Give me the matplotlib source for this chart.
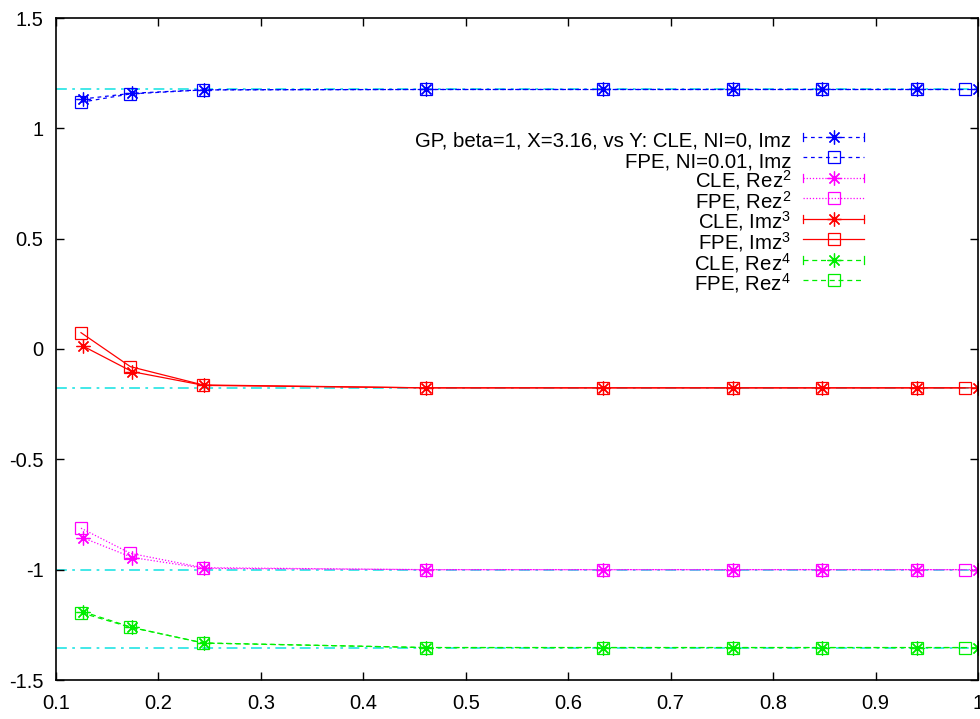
import matplotlib
matplotlib.use('Agg')
import matplotlib.pyplot as plt
from matplotlib.ticker import FuncFormatter, MultipleLocator
from matplotlib.legend_handler import HandlerLine2D
from matplotlib.lines import Line2D

plt.rcParams['font.family'] = ['Liberation Sans', 'DejaVu Sans']
plt.rcParams['mathtext.default'] = 'regular'
plt.rcParams['axes.unicode_minus'] = False

# Y values (x axis), slightly different for CLE and FPE runs
y_fpe = [0.1244, 0.1726, 0.2436, 0.4614, 0.634, 0.761, 0.8477, 0.9408, 0.9874]
y_cle = [0.1260, 0.1745, 0.2446, 0.4614, 0.634, 0.761, 0.8477, 0.9408, 1.0]

# Imz
imz_cle = [1.133, 1.159, 1.175, 1.176, 1.176, 1.176, 1.176, 1.176, 1.176]
imz_fpe = [1.118, 1.156, 1.174, 1.176, 1.176, 1.176, 1.176, 1.176, 1.176]
# Rez^2
rez2_cle = [-0.855, -0.945, -0.994, -1.0, -1.0, -1.0, -1.0, -1.0, -1.0]
rez2_fpe = [-0.812, -0.926, -0.991, -1.0, -1.0, -1.0, -1.0, -1.0, -1.0]
# Imz^3
imz3_cle = [0.014, -0.103, -0.165, -0.176, -0.176, -0.176, -0.176, -0.176, -0.176]
imz3_fpe = [0.074, -0.080, -0.163, -0.176, -0.176, -0.176, -0.176, -0.176, -0.176]
# Rez^4
rez4_cle = [-1.190, -1.262, -1.333, -1.353, -1.353, -1.353, -1.353, -1.353, -1.353]
rez4_fpe = [-1.195, -1.261, -1.332, -1.353, -1.353, -1.353, -1.353, -1.353, -1.353]

# exact values (cyan reference lines)
exact = [1.176, -0.176, -1.0, -1.353]


class HandlerCapped(HandlerLine2D):
    # gnuplot-style key sample for error lines: caps at both ends
    def create_artists(self, legend, orig_handle, xdescent, ydescent,
                       width, height, fontsize, trans):
        arts = list(super().create_artists(legend, orig_handle, xdescent, ydescent,
                                           width, height, fontsize, trans))
        y = (height - ydescent) / 2.
        h = fontsize * 0.2
        for x in (-xdescent, width - xdescent):
            cap = Line2D([x, x], [y - h, y + h], color=orig_handle.get_color(),
                         lw=orig_handle.get_linewidth())
            cap.set_transform(trans)
            arts.append(cap)
        return arts


fig = plt.figure(figsize=(9.8, 7.19), dpi=100)
ax = fig.add_axes([56 / 980, 39 / 719, 922 / 980, 662 / 719])

asterisk = (8, 2, 0)
lw = 0.9
ms_a = 10
ms_s = 9

for v in exact:
    ax.axhline(v, color='#33e6e6', lw=1.3, ls=(0, (6, 3, 1.5, 3)), zorder=1)

series = [
    (y_cle, imz_cle, '#0000ff', (0, (3, 3)), asterisk, 'GP, beta=1, X=3.16, vs Y: CLE, NI=0, Imz', True),
    (y_fpe, imz_fpe, '#0000ff', (0, (3, 3)), 's', 'FPE, NI=0.01, Imz', False),
    (y_cle, rez2_cle, '#ff00ff', (0, (1, 1.5)), asterisk, 'CLE, Rez$^2$', True),
    (y_fpe, rez2_fpe, '#ff00ff', (0, (1, 1.5)), 's', 'FPE, Rez$^2$', False),
    (y_cle, imz3_cle, '#ff0000', '-', asterisk, 'CLE, Imz$^3$', True),
    (y_fpe, imz3_fpe, '#ff0000', '-', 's', 'FPE, Imz$^3$', False),
    (y_cle, rez4_cle, '#00ee00', (0, (4, 3)), asterisk, 'CLE, Rez$^4$', True),
    (y_fpe, rez4_fpe, '#00ee00', (0, (4, 3)), 's', 'FPE, Rez$^4$', False),
]

handles = []
hmap = {}
for xs, ys, c, ls, m, lab, capped in series:
    ms = ms_a if m == asterisk else ms_s
    line, = ax.plot(xs, ys, color=c, ls=ls, lw=lw, marker=m, ms=ms,
                    mfc='none', mec=c, mew=0.9, label=lab, zorder=2)
    handles.append(line)
    if capped:
        hmap[line] = HandlerCapped()

ax.legend(handles=handles, handler_map=hmap, loc='upper right',
          bbox_to_anchor=(0.876, 0.8355), frameon=False, markerfirst=False,
          fontsize=14.7, handlelength=2.95, handletextpad=0.6, labelspacing=-0.28,
          borderpad=0, borderaxespad=0, handleheight=1.6)

ax.set_xlim(0.1, 1.0)
ax.set_ylim(-1.5, 1.5)
ax.xaxis.set_major_locator(MultipleLocator(0.1))
ax.yaxis.set_major_locator(MultipleLocator(0.5))
fmt = FuncFormatter(lambda v, p: '%g' % round(v, 6))
ax.xaxis.set_major_formatter(fmt)
ax.yaxis.set_major_formatter(fmt)
ax.tick_params(direction='in', length=6, width=1, top=True, right=True,
               labelsize=14.5, pad=9)
ax.tick_params(axis='x', pad=10)
for s in ax.spines.values():
    s.set_linewidth(1.2)

fig.savefig('out.png', dpi=100)
